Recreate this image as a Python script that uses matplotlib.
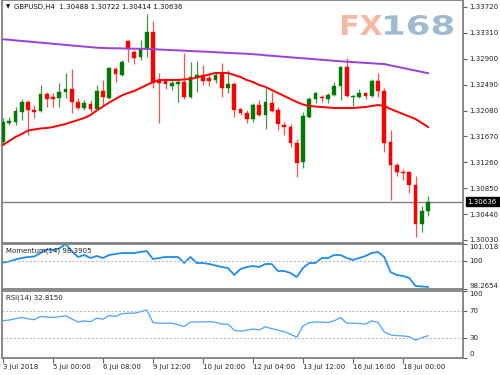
import matplotlib
matplotlib.use("Agg")
import matplotlib.pyplot as plt
from matplotlib.textpath import TextPath
from matplotlib.patches import PathPatch
from matplotlib.font_manager import FontProperties
from matplotlib.transforms import Affine2D, IdentityTransform
import numpy as np

# ---------------- data ----------------
opens = [1.31582, 1.31883, 1.31899, 1.32057, 1.32215, 1.32089, 1.32073, 1.32342, 1.32295, 1.32279,
         1.32374, 1.32421, 1.32215, 1.32120, 1.32184, 1.32104, 1.32390, 1.32279, 1.32738, 1.32643,
         1.33182, 1.33007, 1.32928, 1.33071, 1.33324, 1.32564, 1.32548, 1.32469, 1.32500, 1.32532,
         1.32295, 1.32611, 1.32643, 1.32595, 1.32564, 1.32659, 1.32437, 1.32500, 1.32104, 1.32041,
         1.31946, 1.32168, 1.32009, 1.32199, 1.32089, 1.31851, 1.31819, 1.31566, 1.31265, 1.31978,
         1.32263, 1.32295, 1.32263, 1.32326, 1.32469, 1.32770, 1.32295, 1.32295, 1.32358, 1.32310,
         1.32548, 1.32390, 1.31582, 1.31217, 1.31107, 1.31107, 1.30901, 1.30283, 1.30488]
highs = [1.31962, 1.31978, 1.32136, 1.32263, 1.32247, 1.32168, 1.32485, 1.32374, 1.32358, 1.32516,
         1.32675, 1.32738, 1.32279, 1.32247, 1.32247, 1.32485, 1.32564, 1.32770, 1.32770, 1.32881,
         1.33197, 1.33039, 1.33197, 1.33609, 1.33498, 1.32675, 1.32595, 1.32564, 1.32595, 1.32991,
         1.32849, 1.32865, 1.32801, 1.32675, 1.32691, 1.32833, 1.32722, 1.32532, 1.32120, 1.32089,
         1.32199, 1.32247, 1.32437, 1.32374, 1.32136, 1.31899, 1.31867, 1.31629, 1.32057, 1.32295,
         1.32374, 1.32326, 1.32358, 1.32532, 1.32786, 1.32912, 1.32326, 1.32421, 1.32358, 1.32580,
         1.32675, 1.32437, 1.31772, 1.31249, 1.31154, 1.31122, 1.31043, 1.30568, 1.30722]
lows = [1.31534, 1.31851, 1.31851, 1.31930, 1.31693, 1.31962, 1.32057, 1.32136, 1.32136, 1.32136,
        1.32279, 1.32041, 1.32089, 1.32089, 1.32057, 1.32089, 1.32168, 1.32263, 1.32532, 1.32627,
        1.32849, 1.32817, 1.32881, 1.32928, 1.32437, 1.31883, 1.32421, 1.32405, 1.32215, 1.32263,
        1.32279, 1.32374, 1.32485, 1.32469, 1.32516, 1.32295, 1.32358, 1.31978, 1.32009, 1.31883,
        1.31899, 1.31994, 1.31788, 1.32057, 1.31772, 1.31693, 1.31503, 1.31027, 1.31170, 1.31962,
        1.32199, 1.32215, 1.32199, 1.32310, 1.32247, 1.32295, 1.32152, 1.32279, 1.32263, 1.32295,
        1.32295, 1.31423, 1.30663, 1.31043, 1.30980, 1.30774, 1.30077, 1.30156, 1.30414]
closes = [1.31899, 1.31914, 1.32073, 1.32215, 1.32089, 1.32057, 1.32342, 1.32263, 1.32263, 1.32374,
          1.32421, 1.32215, 1.32120, 1.32199, 1.32104, 1.32390, 1.32295, 1.32754, 1.32659, 1.32849,
          1.33055, 1.32912, 1.33055, 1.33324, 1.32516, 1.32516, 1.32500, 1.32516, 1.32532, 1.32295,
          1.32611, 1.32643, 1.32548, 1.32548, 1.32643, 1.32437, 1.32500, 1.32089, 1.32041, 1.31946,
          1.32168, 1.32009, 1.32215, 1.32073, 1.31867, 1.31819, 1.31566, 1.31249, 1.31994, 1.32263,
          1.32358, 1.32279, 1.32326, 1.32469, 1.32770, 1.32310, 1.32310, 1.32358, 1.32310, 1.32548,
          1.32390, 1.31566, 1.31217, 1.31107, 1.31091, 1.30901, 1.30283, 1.30489, 1.30636]

ma_fast = [1.31534, 1.31598, 1.31661, 1.31708, 1.31764, 1.31780, 1.31796, 1.31803, 1.31819, 1.31843,
           1.31867, 1.31899, 1.31930, 1.31962, 1.32009, 1.32081, 1.32144, 1.32207, 1.32263, 1.32318,
           1.32358, 1.32390, 1.32437, 1.32485, 1.32532, 1.32564, 1.32564, 1.32564, 1.32564, 1.32572,
           1.32580, 1.32603, 1.32627, 1.32651, 1.32675, 1.32675, 1.32675, 1.32643, 1.32611, 1.32564,
           1.32532, 1.32485, 1.32453, 1.32405, 1.32358, 1.32310, 1.32263, 1.32215, 1.32176, 1.32152,
           1.32144, 1.32136, 1.32128, 1.32120, 1.32120, 1.32120, 1.32120, 1.32128, 1.32136, 1.32152,
           1.32168, 1.32152, 1.32104, 1.32065, 1.32025, 1.31986, 1.31946, 1.31883, 1.31819]
ma_slow = [1.33208, 1.33201, 1.33191, 1.33182, 1.33174, 1.33164, 1.33156, 1.33147, 1.33137, 1.33129,
           1.33120, 1.33110, 1.33102, 1.33093, 1.33085, 1.33075, 1.33071, 1.33067, 1.33066, 1.33064,
           1.33061, 1.33060, 1.33058, 1.33056, 1.33052, 1.33047, 1.33042, 1.33037, 1.33033, 1.33028,
           1.33023, 1.33018, 1.33014, 1.33009, 1.33003, 1.32998, 1.32993, 1.32988, 1.32984, 1.32979,
           1.32972, 1.32965, 1.32955, 1.32947, 1.32939, 1.32931, 1.32923, 1.32915, 1.32908, 1.32900,
           1.32892, 1.32884, 1.32876, 1.32868, 1.32860, 1.32854, 1.32847, 1.32841, 1.32835, 1.32828,
           1.32822, 1.32816, 1.32795, 1.32775, 1.32754, 1.32733, 1.32713, 1.32692, 1.32672]

momentum = [99.886, 99.948, 100.070, 100.162, 100.223, 100.253, 100.467, 100.682, 100.651, 100.743,
            101.018, 100.590, 100.223, 100.345, 100.162, 100.284, 100.162, 100.345, 100.406, 100.467,
            100.467, 100.467, 100.529, 100.590, 100.100, 100.162, 100.223, 100.223, 100.223, 99.856,
            100.223, 99.856, 99.856, 99.795, 99.703, 99.611, 99.550, 99.122, 99.489, 99.611,
            99.672, 99.611, 99.795, 99.795, 99.366, 99.366, 99.244, 98.999, 99.550, 99.856,
            99.856, 100.162, 100.162, 100.345, 100.345, 100.162, 100.039, 100.162, 100.284, 100.467,
            100.529, 100.223, 99.305, 99.122, 99.061, 98.938, 98.449, 98.420, 98.3905]
rsi = [55.3, 56.4, 58.3, 60.2, 58.3, 56.8, 61.7, 60.9, 60.2, 61.4,
       62.6, 58.0, 53.5, 55.0, 53.8, 59.1, 57.6, 63.3, 61.7, 65.9,
       66.6, 66.6, 68.9, 71.6, 52.6, 51.6, 51.6, 51.6, 49.3, 46.6,
       53.5, 53.5, 53.5, 53.8, 53.1, 50.1, 50.1, 41.1, 39.5, 41.1,
       42.9, 41.5, 46.3, 43.3, 41.1, 38.8, 35.0, 30.5, 47.5, 52.3,
       53.4, 53.1, 52.6, 55.3, 60.2, 51.6, 51.6, 51.1, 50.1, 55.0,
       52.6, 38.5, 34.0, 32.8, 32.5, 31.3, 26.0, 29.8, 32.815]

price_ticks = [1.33720, 1.33310, 1.32900, 1.32490, 1.32080, 1.31670, 1.31260, 1.30850, 1.30440, 1.30030]
mom_ticks = [98.2654, 100, 101.018]
mom_labels = ["98.2654", "100", "101.018"]
rsi_ticks = [0, 30, 70, 100]
rsi_levels = [30, 70]
date_tick_idx = [0, 8, 16, 24, 32, 40, 48, 56, 64]
date_labels = ["3 Jul 2018", "5 Jul 00:00", "6 Jul 08:00", "9 Jul 12:00", "10 Jul 20:00",
               "12 Jul 04:00", "13 Jul 12:00", "16 Jul 16:00", "18 Jul 00:00"]
symbol_title = "GBPUSD,H4  1.30488 1.30722 1.30414 1.30636"
last_price = 1.30636
mom_title = "Momentum(14) 98.3905"
rsi_title = "RSI(14) 32.8150"

# ---------------- figure ----------------
W, H = 500, 375
fig = plt.figure(figsize=(5, 3.75), dpi=100)
fig.patch.set_facecolor("white")
plt.rcParams['font.family'] = ['DejaVu Sans']

def axes_px(top, bottom, left=2, right=463):
    return fig.add_axes([left / W, 1 - bottom / H, (right - left) / W, (bottom - top) / H])

ax = axes_px(0.3, 243)
axm = axes_px(244, 289)
axr = axes_px(291, 357.5)

n = len(opens)
x = np.arange(n)
px_per_bar = 6.25
xmin = (2 - 3) / px_per_bar
xmax = (463 - 3) / px_per_bar

RED = "#ff0000"
GREEN = "#007a00"
BORDER = "#808080"
FS = 5

for a in (ax, axm, axr):
    a.set_xlim(xmin, xmax)
    for s in a.spines.values():
        s.set_color(BORDER)
        s.set_linewidth(1.3)
    a.yaxis.tick_right()
    a.tick_params(axis="y", which="both", direction="out", length=3, width=0.8,
                  color="#606060", labelsize=FS, pad=1.5, labelcolor="#222222")
    a.tick_params(axis="x", which="both", bottom=False, labelbottom=False)
    a.set_facecolor("white")

# ---- main price panel ----
ax.set_ylim(1.29982, 1.33826)
o = np.array(opens); c = np.array(closes); h = np.array(highs); l = np.array(lows)
up = c >= o
colors = np.where(up, GREEN, RED)
wick_colors = np.where(up, "#3c9a3c", "#ff5050")
ax.vlines(x, l, h, colors=wick_colors, linewidth=0.9, zorder=2)
body_bottom = np.minimum(o, c)
body_h = np.maximum(np.abs(c - o), 0.00018)
ax.bar(x, body_h, bottom=body_bottom, width=0.62, color=colors, edgecolor=colors,
       linewidth=0.3, zorder=3)
ax.plot(x, ma_slow, color="#9b3fd6", linewidth=1.4, zorder=4)
ax.plot(x, ma_fast, color="#ff0000", linewidth=1.4, zorder=4)
ax.axhline(last_price, color="#808080", linewidth=1.0, zorder=1)
ax.set_yticks(price_ticks)
ax.set_yticklabels([f"{v:.5f}" for v in price_ticks])

# last price box
ax.text(1.01, last_price, f"{last_price:.5f}", transform=ax.get_yaxis_transform(),
        fontsize=FS, color="white", va="center", ha="left",
        bbox=dict(boxstyle="square,pad=0.25", facecolor="black", edgecolor="black"), zorder=10,
        clip_on=False)

ax.text(0.008, 0.973, "\u25BC", transform=ax.transAxes, fontsize=4, va="center", ha="left", color="#111111")
ax.text(0.026, 0.973, symbol_title, transform=ax.transAxes, fontsize=FS, va="center", ha="left",
        color="#111111")

# FX168 watermark (paths scaled into pixel boxes)
fp = FontProperties(family="DejaVu Sans", weight="bold")
def wm(txt, x0, x1, y_top, y_bot, color):
    tp = TextPath((0, 0), txt, prop=fp, size=1)
    ext = tp.get_extents()
    sx = (x1 - x0) / ext.width
    sy = (y_bot - y_top) / ext.height
    tr = Affine2D().translate(-ext.x0, -ext.y0).scale(sx, sy).translate(x0, H - y_bot)
    patch = PathPatch(tr.transform_path(tp), facecolor=color, edgecolor="none",
                      transform=IdentityTransform(), zorder=0.5, alpha=0.85)
    fig.add_artist(patch)
wm("FX", 342, 382, 15, 35, "#f3ad92")
wm("168", 385, 453, 15, 35, "#8eafc7")

# ---- momentum panel ----
axm.set_ylim(98.2654, 101.018)
axm.plot(x, momentum, color="#1e8cf0", linewidth=1.3)
axm.axhline(100, color="#b0b0b0", linewidth=0.7, linestyle=(0, (2, 2)))
axm.set_yticks(mom_ticks)
axm.set_yticklabels(mom_labels)
axm.text(0.008, 0.86, mom_title, transform=axm.transAxes, fontsize=FS, va="center", ha="left",
         color="#222222")

# ---- RSI panel ----
axr.set_ylim(0, 100)
axr.plot(x, rsi, color="#4aa3ff", linewidth=0.9)
for lv in rsi_levels:
    axr.axhline(lv, color="#b0b0b0", linewidth=0.7, linestyle=(0, (2, 2)))
axr.set_yticks(rsi_ticks)
axr.set_yticklabels([str(v) for v in rsi_ticks])
axr.text(0.008, 0.9, rsi_title, transform=axr.transAxes, fontsize=FS, va="center", ha="left",
         color="#222222")
axr.tick_params(axis="x", bottom=True, labelbottom=True, direction="out", length=3.5, width=0.8,
                color="#606060", labelsize=FS, pad=1.5, labelcolor="#222222")
axr.set_xticks(date_tick_idx)
axr.set_xticklabels(date_labels)
for t in axr.get_xticklabels():
    t.set_ha("left")

fig.canvas.draw()
# shift boundary labels inside the panels
mt = axm.yaxis.get_major_ticks()
mt[0].label2.set_va("bottom")
mt[2].label2.set_va("top")
rt = axr.yaxis.get_major_ticks()
rt[0].label2.set_va("bottom")
rt[3].label2.set_va("top")

fig.savefig("out.png", dpi=100, facecolor="white")
